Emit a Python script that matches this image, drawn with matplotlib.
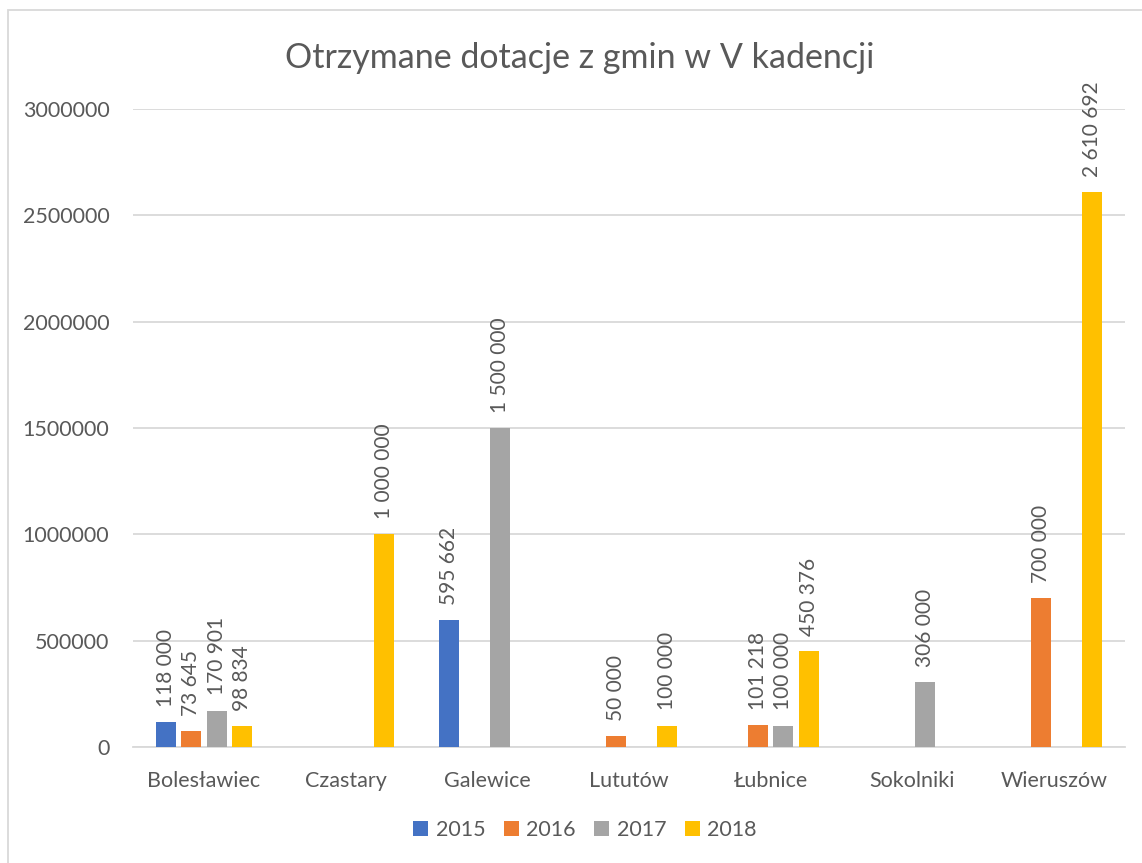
import numpy as np
import matplotlib
matplotlib.use("Agg")
import matplotlib.pyplot as plt
from matplotlib.patches import Rectangle, Patch

categories = ["Bolesławiec", "Czastary", "Galewice", "Lututów", "Łubnice", "Sokolniki", "Wieruszów"]
series_names = ["2015", "2016", "2017", "2018"]
v2015 = [118000, np.nan, 595662, np.nan, np.nan, np.nan, np.nan]
v2016 = [73645, np.nan, np.nan, 50000, 101218, np.nan, 700000]
v2017 = [170901, np.nan, 1500000, np.nan, 100000, 306000, np.nan]
v2018 = [98834, 1000000, np.nan, 100000, 450376, np.nan, 2610692]
yticks = [0, 500000, 1000000, 1500000, 2000000, 2500000, 3000000]
title = "Otrzymane dotacje z gmin w V kadencji"

colors = ["#4472C4", "#ED7D31", "#A5A5A5", "#FFC000"]
text_color = "#595959"
font = "Lato"

fig = plt.figure(figsize=(11.42, 8.63), dpi=100)
W, H = 1142, 863
ax = fig.add_axes([133 / W, 1 - 747 / H, (1125 - 133) / W, (747 - 109) / H])

x = np.arange(len(categories))
step = 25.5 / 141.7
bw = 20 / 141.7
for i, (vals, c) in enumerate(zip([v2015, v2016, v2017, v2018], colors)):
    pos = x + (i - 1.5) * step
    ax.bar(pos, vals, width=bw, color=c, zorder=3)
    for p, v in zip(pos, vals):
        if np.isnan(v):
            continue
        lbl = f"{int(v):,}".replace(",", " ")
        ax.annotate(lbl, (p, v), xytext=(0, 11), textcoords="offset points",
                    rotation=90, ha="center", va="bottom", fontsize=15,
                    color=text_color, family=font, annotation_clip=False)

ax.set_xlim(-0.5, len(categories) - 0.5)
ax.set_ylim(0, 3000000)
ax.set_yticks(yticks)
ax.set_yticklabels([str(t) for t in yticks])
ax.set_xticks(x)
ax.set_xticklabels(categories)
ax.grid(axis="y", color="#D9D9D9", linewidth=1.3, zorder=0)
ax.set_axisbelow(True)
for s in ["top", "right", "left"]:
    ax.spines[s].set_visible(False)
ax.spines["bottom"].set_color("#D9D9D9")
ax.spines["bottom"].set_linewidth(1.3)
ax.tick_params(axis="both", length=0, labelsize=15.5, labelcolor=text_color)
ax.tick_params(axis="y", pad=17)
ax.tick_params(axis="x", pad=17)
for t in ax.get_xticklabels() + ax.get_yticklabels():
    t.set_family(font)

fig.text(580 / W, 1 - 58 / H, title, ha="center", va="center", fontsize=24.5,
         color=text_color, family=font)

handles = [Patch(facecolor=c, label=n) for c, n in zip(colors, series_names)]
leg = fig.legend(handles=handles, loc="center", bbox_to_anchor=(585 / W, 1 - 830 / H),
                 ncol=4, frameon=False, handlelength=0.7, handleheight=0.7,
                 handletextpad=0.35, columnspacing=0.85,
                 prop={"family": font, "size": 15.5})
for t in leg.get_texts():
    t.set_color(text_color)

fig.patches.append(Rectangle((8 / W, -0.01), 1.2, 1 - 10 / H + 0.01,
                             transform=fig.transFigure, fill=False,
                             edgecolor="#D9D9D9", linewidth=1.3))

fig.savefig("out.png", dpi=100, facecolor="white")
